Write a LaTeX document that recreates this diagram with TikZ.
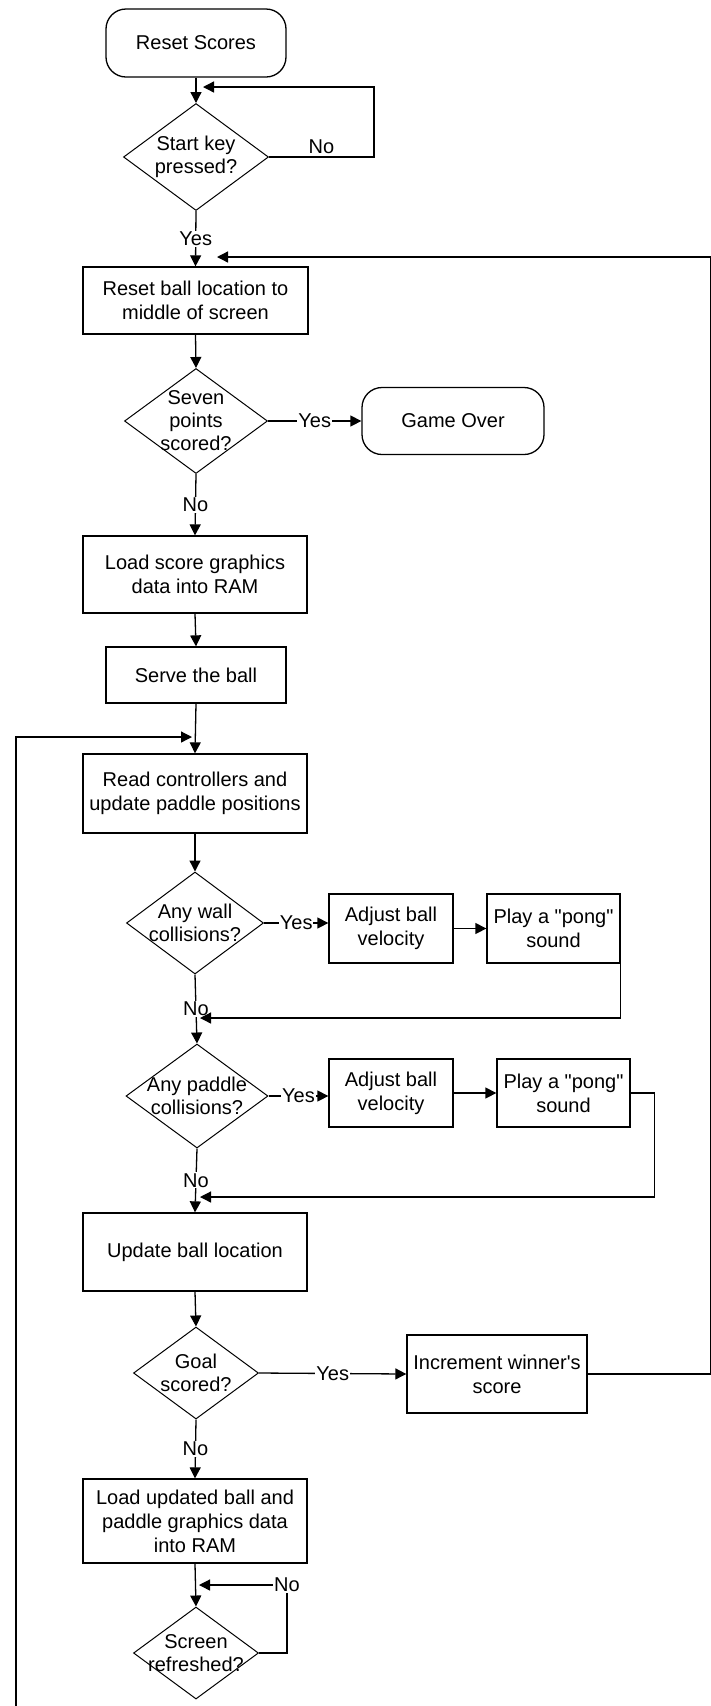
\documentclass[tikz,border=0pt]{standalone}
\usepackage{fontspec}
\setmainfont{Liberation Sans}[Ligatures=TeXOff]
\usetikzlibrary{arrows.meta,shapes.geometric}
\begin{document}
\begin{tikzpicture}[x=1pt,y=-1pt,
  every node/.style={font=\fontsize{20}{24}\selectfont},
  box/.style={draw, line width=1.3pt, rectangle, inner sep=0pt, align=center},
  term/.style={draw, line width=1.3pt, rectangle, rounded corners=20pt, inner sep=0pt, align=center},
  dec/.style={draw, line width=1pt, diamond, inner sep=0pt},
  dtext/.style={align=center, inner sep=0pt, font=\fontsize{20}{23}\selectfont},
  arr/.style={line width=1.3pt, -{Triangle[length=11pt,width=11pt]}},
  lab/.style={fill=white, inner sep=1pt},
]
\fill[white] (0,0) rectangle (711,1706);
\useasboundingbox (0,0) rectangle (711,1706);

% nodes
\node[term, minimum width=180pt, minimum height=68pt] (start) at (196,43) {Reset Scores};
\node[dec, minimum width=145pt, minimum height=107pt, label={[dtext]center:Start key\\pressed?}] (d1) at (196,157) {};
\node[box, minimum width=225pt, minimum height=67pt] (b1) at (195.5,300.5) {Reset ball location to\\middle of screen};
\node[dec, minimum width=143pt, minimum height=105pt, label={[dtext]center:Seven\\points\\scored?}] (d2) at (196,421) {};
\node[term, minimum width=182pt, minimum height=67pt] (go) at (453,421) {Game Over};
\node[box, minimum width=224pt, minimum height=77pt] (b2) at (195,574.5) {Load score graphics\\data into RAM};
\node[box, minimum width=180pt, minimum height=56pt] (b3) at (196,675) {Serve the ball};
\node[box, minimum width=224pt, minimum height=79pt] (b4) at (195,793.5) {Read controllers and\\update paddle positions};
\node[dec, minimum width=137pt, minimum height=102pt, label={[dtext]center:Any wall\\collisions?}] (d3) at (195,923) {};
\node[box, minimum width=124pt, minimum height=69pt] (a1) at (391,928.5) {Adjust ball\\velocity};
\node[box, minimum width=133pt, minimum height=69pt] (p1) at (553.5,928.5) {Play a "pong"\\sound};
\node[dec, minimum width=142pt, minimum height=104pt, label={[dtext]center:Any paddle\\collisions?}] (d4) at (197,1096) {};
\node[box, minimum width=124pt, minimum height=68pt] (a2) at (391,1093) {Adjust ball\\velocity};
\node[box, minimum width=133pt, minimum height=68pt] (p2) at (563.5,1093) {Play a "pong"\\sound};
\node[box, minimum width=224pt, minimum height=78pt] (b5) at (195,1252) {Update ball location};
\node[dec, minimum width=125pt, minimum height=92pt, label={[dtext]center:Goal\\scored?}] (d5) at (196,1373) {};
\node[box, minimum width=180pt, minimum height=78pt] (inc) at (497,1374) {Increment winner's\\score};
\node[box, minimum width=224pt, minimum height=84pt] (b6) at (195,1521) {Load updated ball and\\paddle graphics data\\into RAM};
\node[dec, minimum width=125pt, minimum height=92pt, label={[dtext]center:Screen\\refreshed?}] (d6) at (196,1653) {};

% coordinates for merge points
\coordinate (m1) at (203,87);
\coordinate (m2) at (217,257);
\coordinate (lb) at (16,1706);
\coordinate (m3) at (192,737);
\coordinate (m4) at (200,1018);
\coordinate (m5) at (200,1197);
\coordinate (cn) at (287,1585);
\coordinate (m6) at (199,1585);

% connectors
\draw[arr] (start.south) -- (d1.north);
\draw[arr] (d1.east) -- node[lab, above=2pt] (no1) {No} ++(105,0) |- (m1);
\draw[arr] (d1.south) -- node[lab] (yes1) {Yes} (b1.north);
\draw[arr] (inc.east) -- ++(122.5,0) |- (m2);
\draw[arr] (b1.south) -- (d2.north);
\draw[arr] (d2.east) -- node[lab] (yes2) {Yes} (go.west);
\draw[arr] (d2.south) -- node[lab] (no2) {No} (b2.north);
\draw[arr] (b2.south) -- (b3.north);
\draw[arr] (b3.south) -- (b4.north);
\draw[arr] (lb) |- (m3);
\draw[arr] (b4.south) -- (d3.north);
\draw[arr] (d3.east) -- node[lab] (yes3) {Yes} (d3.east -| a1.west);
\draw[arr] (a1.east) -- (p1.west);
\draw[arr] (d3.south) -- node[lab] (no3) {No} (d4.north);
\draw[arr] (p1.south east) |- (m4);
\draw[arr] (d4.east) -- node[lab] (yes4) {Yes} (d4.east -| a2.west);
\draw[arr] (a2.east) -- (p2.west);
\draw[arr] (d4.south) -- node[lab] (no4) {No} (b5.north);
\draw[arr] (p2.east) -- ++(23.5,0) |- (m5);
\draw[arr] (b5.south) -- (d5.north);
\draw[arr] (d5.east) -- node[lab] (yes5) {Yes} (inc.west);
\draw[arr] (d5.south) -- node[lab] (no5) {No} (b6.north);
\draw[arr] (b6.south) -- (d6.north);
\draw[arr] (d6.east) -| (cn) node[lab] (no6) {No} -- (m6);
\end{tikzpicture}
\end{document}
